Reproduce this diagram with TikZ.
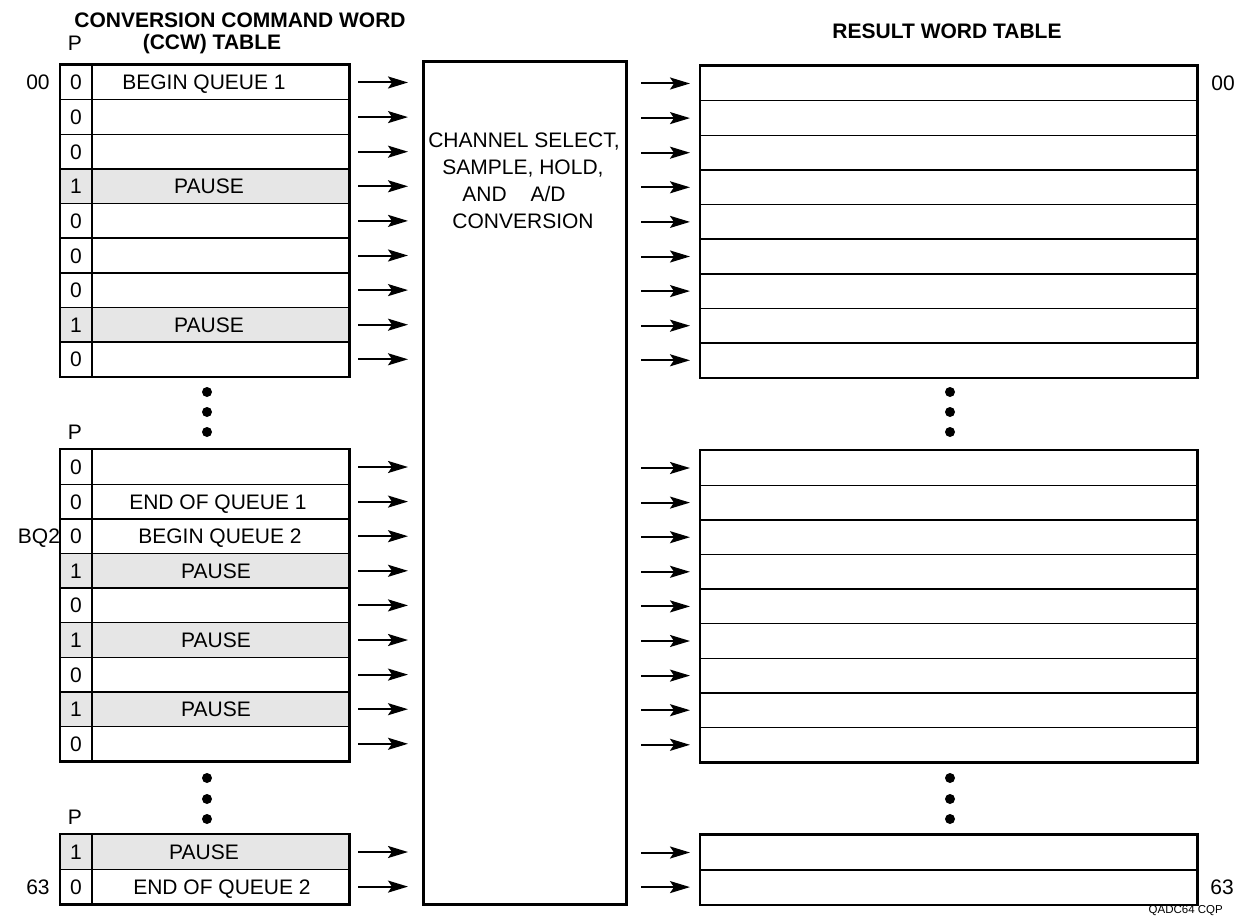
\documentclass[tikz,border=0pt]{standalone}
\usepackage{fontspec}
\setmainfont{Liberation Sans}
\usetikzlibrary{arrows.meta}
\definecolor{pausegray}{RGB}{230,230,230}
\begin{document}
\begin{tikzpicture}[x=1pt,y=-1pt,
  font=\fontsize{21}{25}\selectfont,
  lrow/.style={draw, line width=1.4pt, minimum width=288pt, minimum height=34.6pt, inner sep=0pt, anchor=north west},
  rrow/.style={draw, line width=1.4pt, minimum width=496pt, minimum height=34.6pt, inner sep=0pt, anchor=north west},
  s0/.style={fill=white},
  s1/.style={fill=pausegray},
  pdiv/.style={line width=2pt},
  outer/.style={line width=2.2pt},
  arr/.style={line width=2pt, -{Stealth[length=20pt,width=12pt,inset=4pt]}},
  larr/.style={arr, shorten <=9pt, shorten >=14pt},
  rarr/.style={arr, shorten <=13pt, shorten >=10pt},
  dot/.style={fill=black},
  txt/.style={inner sep=0pt, text height=15pt, text depth=0pt},
  ttl/.style={inner sep=0pt, text height=15pt, text depth=0pt, font=\fontsize{21}{25}\selectfont\bfseries}
]
\useasboundingbox (0,0) rectangle (1245,920);

% central box
\node[draw, line width=3pt, minimum width=203pt, minimum height=843pt, inner sep=0pt, anchor=north west] (box) at (422,60) {};
\node[txt] (c1) at (524,140) {CHANNEL SELECT,};
\node[txt] (c2) at (523,167) {SAMPLE, HOLD,};
\node[txt] (c3) at (514,194) {AND\hspace{24pt}A/D};
\node[txt] (c4) at (523,221) {CONVERSION};

% titles
\node[ttl] (t1) at (240,20) {CONVERSION COMMAND WORD};
\node[ttl] (t2) at (212,42) {(CCW) TABLE};
\node[ttl] (t3) at (947,31) {RESULT WORD TABLE};

% block 1
\foreach \p/\t/\tx [count=\i] in {0/BEGIN QUEUE 1/204, 0//0, 0//0, 1/PAUSE/209, 0//0, 0//0, 0//0, 1/PAUSE/209, 0//0} {
  \node[lrow, s\p] (La\i) at ({60},{64.5+(\i-1)*34.6}) {};
  \node[txt] at ([xshift=16pt]La\i.west) {\p};
  \node[txt] at (La\i.center -| {\tx,0}) {\t};
  \draw[pdiv] ([xshift=32pt]La\i.north west) -- ([xshift=32pt]La\i.south west);
  \node[rrow] (Ra\i) at ({700},{65.5+(\i-1)*34.6}) {};
  \draw[larr] (La\i.east) -- (La\i.east -| box.west);
  \draw[rarr] (Ra\i.west -| box.east) -- (Ra\i.west);
}
\draw[outer] (La1.north west) rectangle (La9.south east);
\draw[outer] (Ra1.north west) rectangle (Ra9.south east);

% block 2
\foreach \p/\t/\tx [count=\i] in {0//0, 0/END OF QUEUE 1/218, 0/BEGIN QUEUE 2/220, 1/PAUSE/216, 0//0, 1/PAUSE/216, 0//0, 1/PAUSE/216, 0//0} {
  \node[lrow, s\p] (Lb\i) at ({60},{449+(\i-1)*34.6}) {};
  \node[txt] at ([xshift=16pt]Lb\i.west) {\p};
  \node[txt] at (Lb\i.center -| {\tx,0}) {\t};
  \draw[pdiv] ([xshift=32pt]Lb\i.north west) -- ([xshift=32pt]Lb\i.south west);
  \node[rrow] (Rb\i) at ({700},{450+(\i-1)*34.6}) {};
  \draw[larr] (Lb\i.east) -- (Lb\i.east -| box.west);
  \draw[rarr] (Rb\i.west -| box.east) -- (Rb\i.west);
}
\draw[outer] (Lb1.north west) rectangle (Lb9.south east);
\draw[outer] (Rb1.north west) rectangle (Rb9.south east);

% block 3
\foreach \p/\t/\tx [count=\i] in {1/PAUSE/204, 0/END OF QUEUE 2/222} {
  \node[lrow, s\p] (Lc\i) at ({60},{834+(\i-1)*34.6}) {};
  \node[txt] at ([xshift=16pt]Lc\i.west) {\p};
  \node[txt] at (Lc\i.center -| {\tx,0}) {\t};
  \draw[pdiv] ([xshift=32pt]Lc\i.north west) -- ([xshift=32pt]Lc\i.south west);
  \node[rrow] (Rc\i) at ({700},{834.5+(\i-1)*34.6}) {};
  \draw[larr] (Lc\i.east) -- (Lc\i.east -| box.west);
  \draw[rarr] (Rc\i.west -| box.east) -- (Rc\i.west);
}
\draw[outer] (Lc1.north west) rectangle (Lc2.south east);
\draw[outer] (Rc1.north west) rectangle (Rc2.south east);

% P headers
\node[txt] (p1) at (75,43) {P};
\node[txt] (p2) at (75,432) {P};
\node[txt] (p3) at (75,817) {P};

% side labels
\node[txt] (l00) at (38, 0 |- La1.center) {00};
\node[txt] (lbq) at (39, 0 |- Lb3.center) {BQ2};
\node[txt] (l63) at (38, 0 |- Lc2.center) {63};
\node[txt] (r00) at (1223, 0 |- Ra1.center) {00};
\node[txt] (r63) at (1222, 0 |- Rc2.center) {63};
\node[anchor=east, inner sep=0pt, font=\fontsize{11.5}{13}\selectfont] (code) at (1223,911) {QADC64 CQP};

% ellipsis dots
\foreach \yy in {392,412,432,778,799,819} {
  \fill[dot] (207,\yy) circle (5pt);
  \fill[dot] (950,\yy) circle (5pt);
}
\end{tikzpicture}
\end{document}
